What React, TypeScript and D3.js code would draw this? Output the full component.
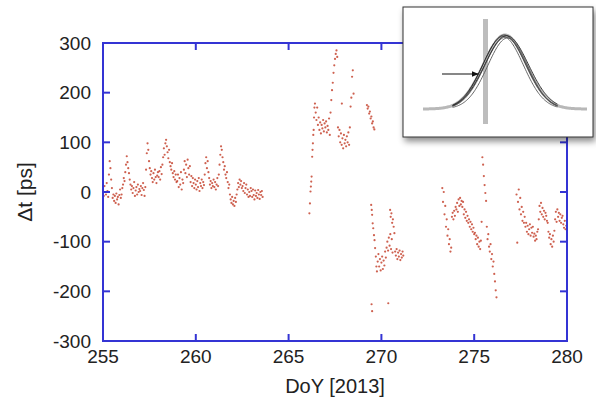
import React from 'react';
import * as d3 from 'd3';

const W = 596;
const H = 403;
const xDomain: [number, number] = [255, 280];
const yDomain: [number, number] = [-300, 300];
const xTicks = [255, 260, 265, 270, 275, 280];
const yTicks = [-300, -200, -100, 0, 100, 200, 300];
const xLabel = 'DoY [2013]';
const yLabel = 'Δt [ps]';

const sampleStep = 0.04;
const seg1Start = 255.0;
const seg1Values = [
  5, -8, 12, 0, -5, 18, 2, -10, 35, 62, 48, 25, 8, -12, -5, -18, -8, -22, -3, -15, -10, -25, -6, 5, -12,
  -5, 8, 15, 28, 22, 40, 55, 72, 60, 48, 38, 25, 15, 5, 12, -2, 8, 20, -8, 3, 10, -5, 15, 0, 6,
  2, 12, -6, 8, 18, 4, -8, 10, 45, 78, 98, 85, 62, 48, 35, 42, 28, 20, 38, 25, 45, 30, 18, 33, 40,
  30, 42, 25, 50, 36, 55, 70, 88, 75, 98, 105, 92, 80, 68, 85, 60, 52, 45, 58, 38, 30, 42, 25, 35, 20,
  22, 35, 10, 28, 15, 40, 5, 25, 18, 45, 62, 38, 55, 30, 65, 48, 35, 52, 20, 32, 12, 28, 18, 8, 25,
  15, 5, 22, 10, 28, 2, 18, 12, 25, 8, 20, 14, 35, 58, 70, 48, 62, 40, 28, 15, 22, 8, 18, 12, 25,
  10, 20, 5, 15, 28, 12, 35, 55, 75, 92, 85, 70, 60, 45, 52, 35, 28, 40, 20, 8, 15, -5, -15, -22, -10,
  -25, -18, -28, -12, -20, -5, 5, 18, 10, 25, 15, 22, 8, 12, 2, 18, -2, 8, 15, -5, 5, -10, 0, -8, 8,
  2, -10, 5, -6, -15, 3, -8, -2, -12, 4, -5, -14, 0, -6, 2, -10,
];

const seg2Points: [number, number][] = [
  [266.12, -43], [266.15, -23], [266.18, 1], [266.2, 11], [266.22, 21], [266.24, 31], [266.27, 71],
  [266.29, 85], [266.31, 98], [266.33, 115], [266.35, 125], [266.37, 150], [266.39, 170],
  [266.42, 178], [266.46, 160], [266.5, 145], [266.54, 170], [266.58, 135], [266.62, 150], [266.66, 125],
  [266.7, 140], [266.74, 118], [266.78, 135], [266.82, 128], [266.86, 145], [266.9, 122], [266.94, 138],
  [266.98, 130], [267.02, 142], [267.06, 120], [267.1, 133], [267.14, 125], [267.18, 148], [267.22, 115],
  [267.26, 160], [267.3, 185], [267.34, 205], [267.38, 220], [267.42, 240], [267.46, 255], [267.5, 268],
  [267.54, 278], [267.58, 285], [267.62, 272],
  [267.66, 130], [267.7, 112], [267.74, 125], [267.78, 100], [267.82, 118], [267.86, 95], [267.87, 178],
  [267.9, 108], [267.94, 88], [267.98, 115], [268.02, 98], [268.06, 105], [268.1, 92], [268.14, 112],
  [268.18, 100], [268.22, 120], [268.26, 95], [268.3, 130],
  [268.34, 172], [268.38, 190], [268.42, 232], [268.46, 245], [268.5, 198],
  [269.22, 175], [269.26, 168], [269.3, 172], [269.34, 158], [269.38, 162], [269.42, 148], [269.46, 152],
  [269.5, 138], [269.54, 142], [269.58, 130], [269.62, 126],
  [269.45, -26], [269.48, -36], [269.5, -46], [269.53, -63], [269.56, -73], [269.6, -87], [269.63, -97],
  [269.66, -113], [269.7, -130], [269.73, -150], [269.76, -160],
  [269.47, -226], [269.5, -240], [270.37, -224],
  [269.8, -140], [269.84, -125], [269.88, -150], [269.92, -135], [269.96, -158], [270.0, -142],
  [270.04, -130], [270.08, -155], [270.12, -138], [270.16, -148], [270.2, -120], [270.24, -132], [270.28, -112],
  [270.32, -100], [270.36, -118], [270.4, -92], [270.44, -108], [270.48, -85], [270.52, -115], [270.56, -95], [270.6, -122],
  [270.47, -36], [270.5, -50], [270.54, -43], [270.58, -62], [270.62, -55], [270.66, -70], [270.7, -83],
  [270.74, -120], [270.78, -128], [270.82, -115], [270.86, -135], [270.9, -122], [270.94, -130], [270.98, -118],
  [271.02, -137], [271.06, -125], [271.1, -132], [271.14, -120], [271.18, -128],
];

const seg3Start = 273.28;
const seg3Values = [
  8, -20, 0, -45, -28, -70, -55, -88, -75, -105, -95, -120,
  -112, -50, -42, -55, -38, -48, -30,
  -35, -22, -40, -15, -28, -12, -25, -18,
  -30, -20, -45, -35, -52, -40, -58,
  -48, -62, -55, -70, -60, -75, -65, -80, -72, -85,
  -82, -95, -88, -105, -92, -110, -100, -115, -98,
  -60, 70, 55, 32, 14, -2, -18,
  -70, -95, -85, -110, -120, -105, -135, -125, -150, -140, -165, -180, -198, -212,
];

const seg4Start = 277.28;
const seg4Values = [
  -5, -102, -20, 5, -35, -12,
  -45, -30, -58, -40, -62, -50,
  -70, -62, -80, -68, -85, -75, -65, -88, -72, -82, -70,
  -90, -84, -98, -88, -95, -80, -75,
  -55, -28, -40, -22, -45, -32, -50, -38, -55, -42, -48, -58, -62,
  -80, -92, -85, -105, -95, -110, -88, -100, -78,
  -55, -40, -60, -35, -50, -42, -58, -45, -62, -52, -48,
  -65, -72, -58, -75, -68,
];

// inset schematic: pulse shapes
const insetCenters = [-0.12, -0.04, 0.04, 0.1, 0.16];
const insetWidths = [1.24, 1.3, 1.27, 1.33, 1.22];
const insetAmps = [0.98, 1.0, 0.97, 0.99, 0.96];

function expand(start: number, values: number[]): [number, number][] {
  return values.map((v, i) => [start + i * sampleStep, v]);
}

export default function App() {
  const left = 103, right = 567, top = 43, bottom = 341;
  const x = d3.scaleLinear().domain(xDomain).range([left, right]);
  const y = d3.scaleLinear().domain(yDomain).range([bottom, top]);
  const points: [number, number][] = [
    ...expand(seg1Start, seg1Values),
    ...seg2Points,
    ...expand(seg3Start, seg3Values),
    ...expand(seg4Start, seg4Values),
  ];
  const axisColor = '#3434d4';
  const font = 'Liberation Sans, Arial, Helvetica, sans-serif';
  const tickLen = 7;

  // inset
  const ix = d3.scaleLinear().domain([-5, 5]).range([423, 587]);
  const iy = d3.scaleLinear().domain([0, 1]).range([109, 35]);
  const gridFull = d3.range(-5, 5.001, 0.05);
  const gridCore = d3.range(-3.2, 3.201, 0.05);
  const line = d3.line<[number, number]>().x(d => ix(d[0])).y(d => iy(d[1])).curve(d3.curveBasis);
  const gauss = (c: number, s: number, a: number, xs: number[]) =>
    xs.map(t => [t, a * Math.exp(-((t - c) * (t - c)) / (2 * s * s))] as [number, number]);

  return (
    <svg width={W} height={H} style={{ position: 'absolute', left: 0, top: 0, background: '#fff' }}
      xmlns="http://www.w3.org/2000/svg">
      <defs>
        <filter id="shadow" x="-10%" y="-10%" width="130%" height="140%">
          <feDropShadow dx="2" dy="4" stdDeviation="3" floodColor="#000" floodOpacity="0.45" />
        </filter>
        <marker id="arrow" viewBox="0 0 10 10" refX="9" refY="5" markerWidth="6" markerHeight="6" orient="auto">
          <path d="M0,1 L10,5 L0,9 z" fill="#111" />
        </marker>
      </defs>
      <rect x={0} y={0} width={W} height={H} fill="#fff" />
      {/* data */}
      <g>
        {points.map((p, i) => (
          <circle key={i} cx={x(p[0])} cy={y(p[1])} r={1.1} fill="#c23a24" fillOpacity={0.8} />
        ))}
      </g>
      {/* frame */}
      <rect x={left} y={top} width={right - left} height={bottom - top} fill="none" stroke={axisColor} strokeWidth={2} />
      {xTicks.map(t => (
        <g key={'xt' + t}>
          <line x1={x(t)} x2={x(t)} y1={bottom} y2={bottom - tickLen} stroke={axisColor} strokeWidth={2} />
          <line x1={x(t)} x2={x(t)} y1={top} y2={top + tickLen} stroke={axisColor} strokeWidth={2} />
          <text x={x(t)} y={363} textAnchor="middle" fontFamily={font} fontSize={19} fill="#222">{t}</text>
        </g>
      ))}
      {yTicks.map(t => (
        <g key={'yt' + t}>
          <line x1={left} x2={left + tickLen} y1={y(t)} y2={y(t)} stroke={axisColor} strokeWidth={2} />
          <line x1={right} x2={right - tickLen} y1={y(t)} y2={y(t)} stroke={axisColor} strokeWidth={2} />
          <text x={91} y={y(t) + 6.5} textAnchor="end" fontFamily={font} fontSize={19} fill="#222">{t}</text>
        </g>
      ))}
      <text x={335} y={393} textAnchor="middle" fontFamily={font} fontSize={20} fill="#222">{xLabel}</text>
      <text transform="translate(32,192) rotate(-90)" textAnchor="middle" fontFamily={font} fontSize={21} fill="#222">{yLabel}</text>
      {/* inset */}
      <rect x={403} y={7} width={190} height={130} fill="#fff" stroke="#333" strokeWidth={1} filter="url(#shadow)" />
      <rect x={483} y={19} width={5} height={105} fill="#bdbdbd" />
      <path d={line(gauss(0, 1.3, 1, gridFull)) || ''} fill="none" stroke="#b8b8b8" strokeWidth={3} />
      {insetCenters.map((c, i) => (
        <path key={'g' + i} d={line(gauss(c, insetWidths[i], insetAmps[i], gridCore)) || ''} fill="none"
          stroke={i % 2 ? '#222' : '#555'} strokeWidth={0.9} />
      ))}
      <line x1={442} y1={74} x2={478} y2={74} stroke="#111" strokeWidth={1.2} markerEnd="url(#arrow)" />
    </svg>
  );
}
